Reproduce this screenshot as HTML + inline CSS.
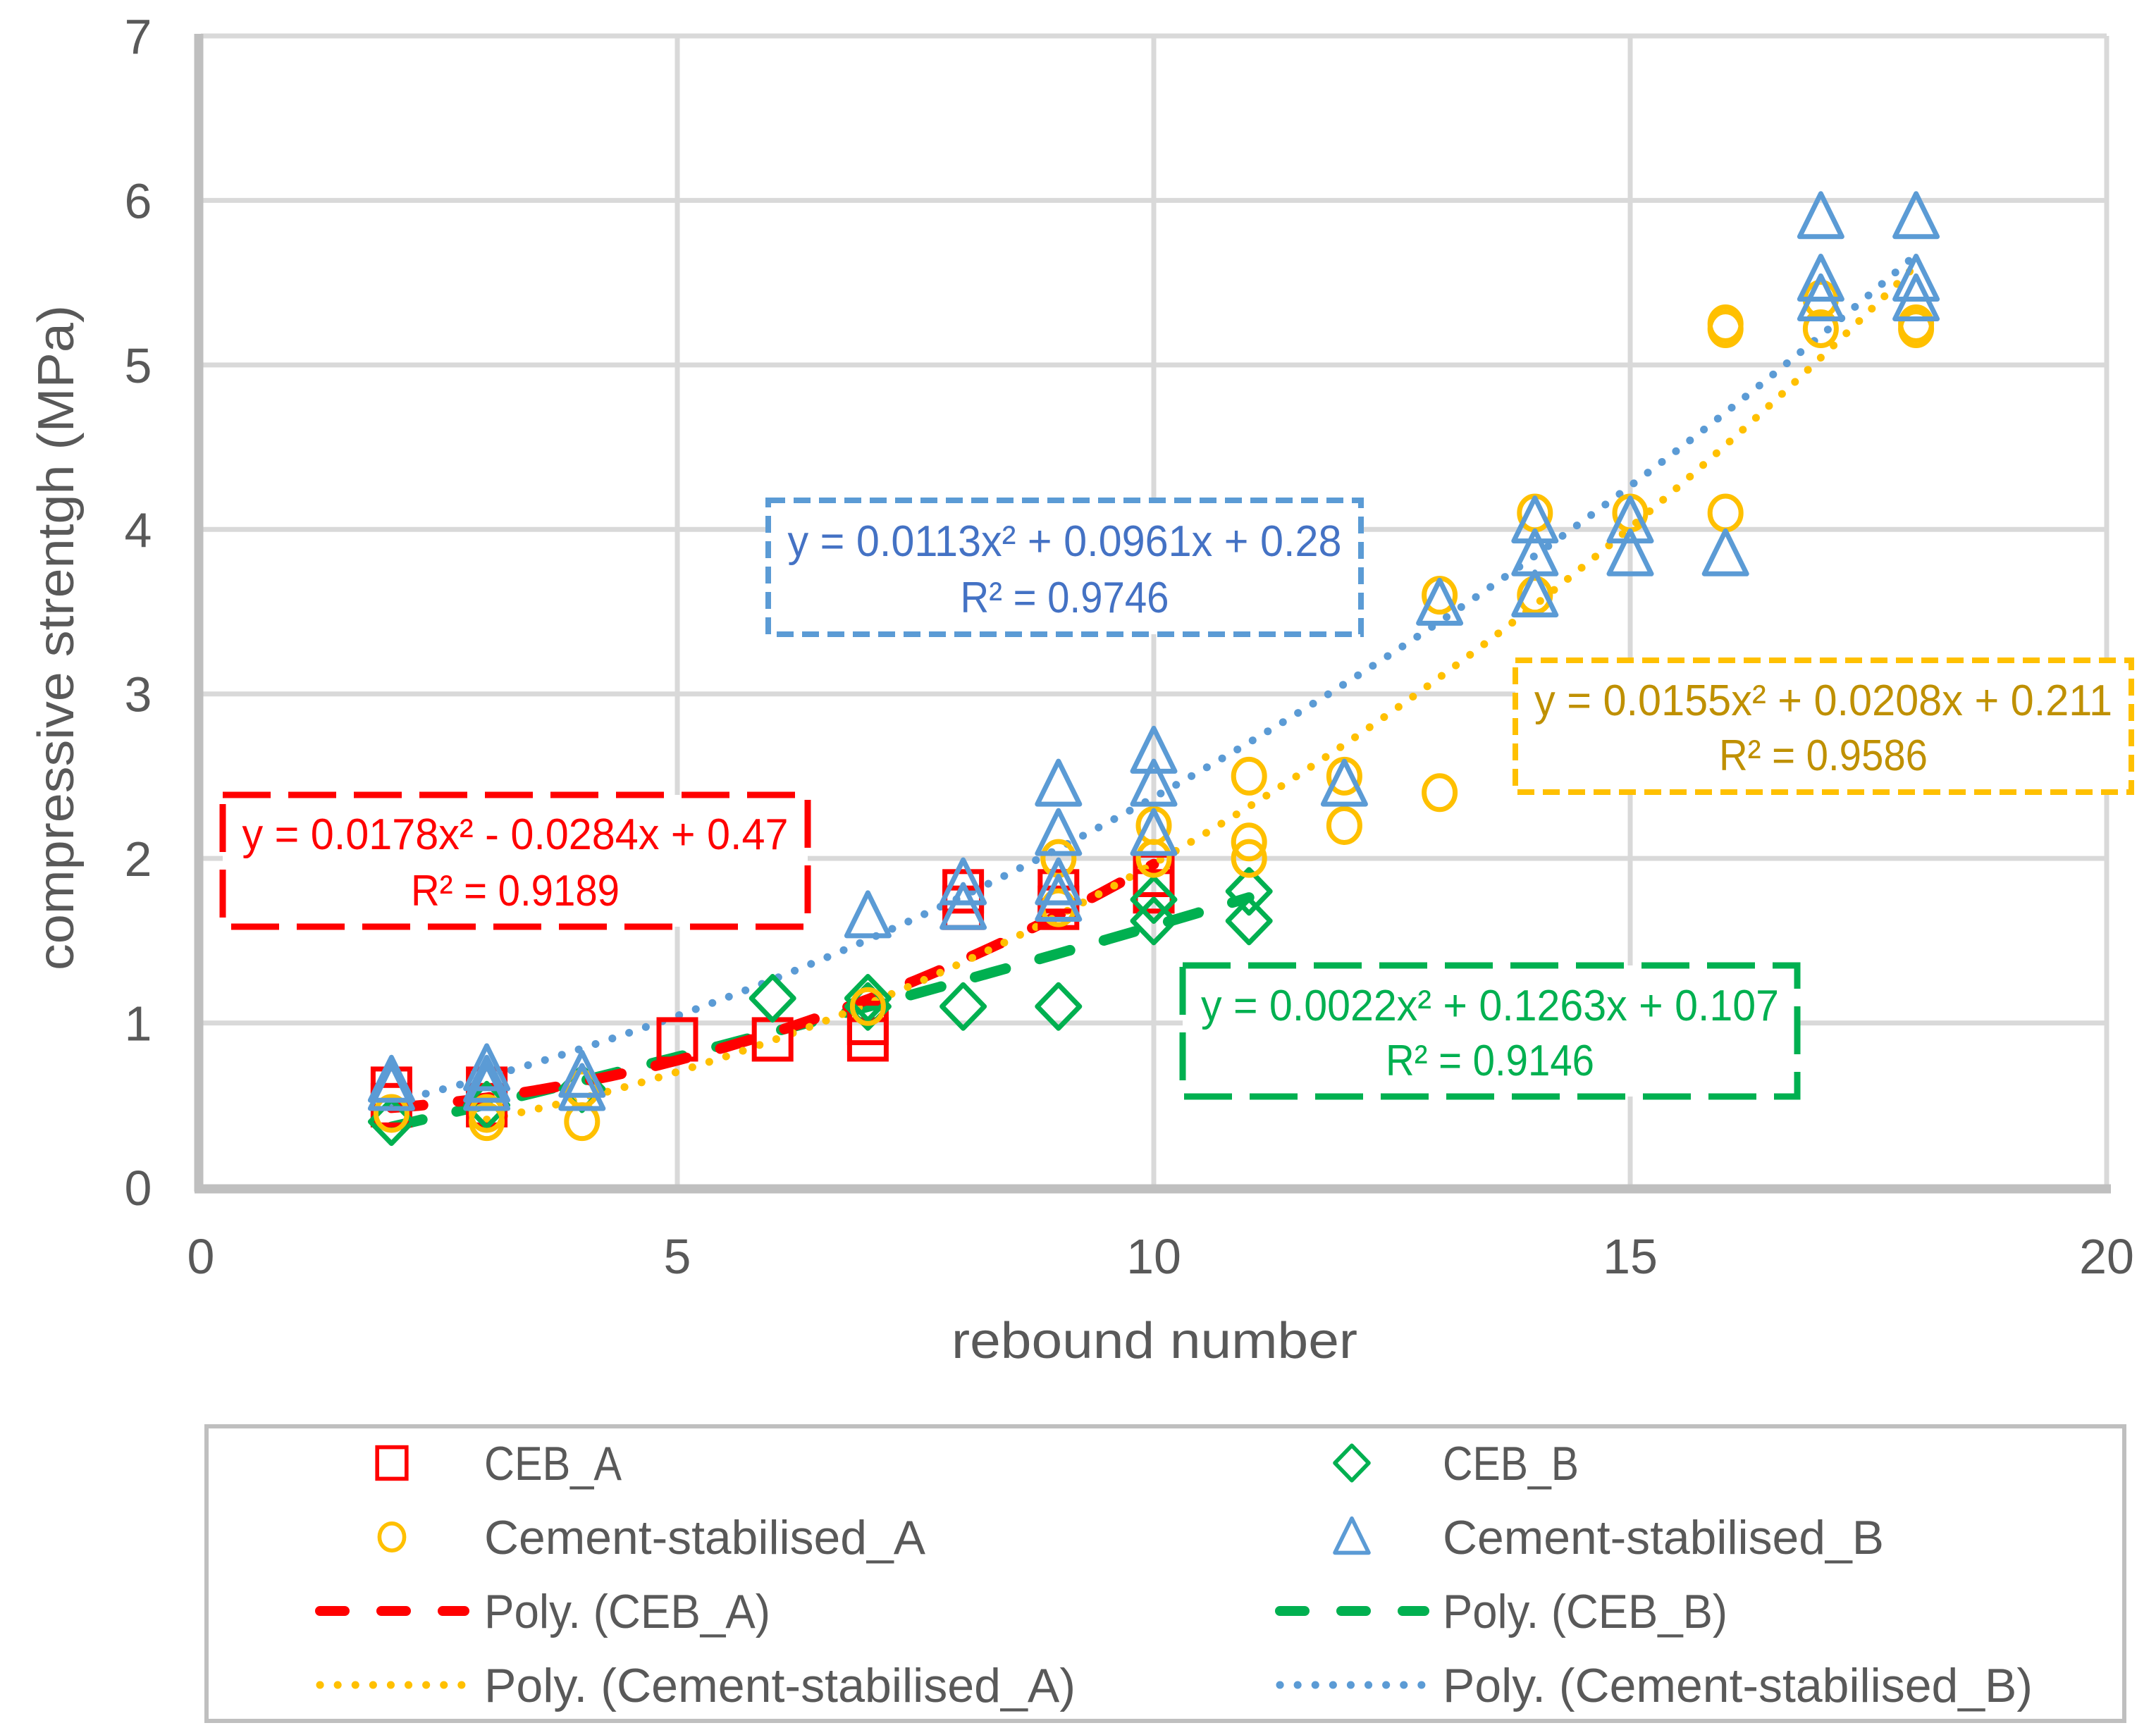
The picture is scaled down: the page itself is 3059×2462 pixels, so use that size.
<!DOCTYPE html>
<html><head><meta charset="utf-8"><style>
html,body{margin:0;padding:0;background:#fff;}
svg{display:block;font-family:"Liberation Sans",sans-serif;}
</style></head><body>
<svg id="chart" width="3059" height="2462" viewBox="0 0 3059 2462" xmlns="http://www.w3.org/2000/svg">
<rect width="3059" height="2462" fill="#fff"/>
<g id="grid"></g>
<g id="axes"></g>
<g id="trends"></g>
<g id="marks"></g>
<g id="ann"></g>
<text x="1638" y="1927" font-size="72" fill="#595959" text-anchor="middle" textLength="576" lengthAdjust="spacingAndGlyphs">rebound number</text>
<text transform="translate(104,905) rotate(-90)" font-size="72" fill="#595959" text-anchor="middle" textLength="944" lengthAdjust="spacingAndGlyphs">compressive strentgh (MPa)</text>
<g id="legend"></g>
</svg>
<script>
const xTicks = [0, 5, 10, 15, 20];
const yTicks = [0, 1, 2, 3, 4, 5, 6, 7];
const cebAx = [2, 2, 3, 3, 5, 6, 7, 7, 8, 8, 9, 9, 10, 10];
const cebAy = [0.6, 0.5, 0.6, 0.5, 0.9, 0.9, 0.9, 1.0, 1.7, 1.8, 1.7, 1.8, 1.9, 1.8];
const cebBx = [2, 3, 4, 6, 7, 7, 8, 9, 10, 10, 11, 11];
const cebBy = [0.4, 0.5, 0.6, 1.15, 1.1, 1.15, 1.1, 1.1, 1.62, 1.75, 1.8, 1.62];
const csAx = [2, 3, 3, 4, 4, 7, 9, 9, 10, 10, 11, 11, 11, 12, 12, 13, 13, 14, 14, 15, 16, 16, 16, 17, 17, 18, 18];
const csAy = [0.45, 0.4, 0.45, 0.4, 0.6, 1.1, 2.0, 1.7, 2.0, 2.2, 2.5, 2.1, 2.0, 2.2, 2.5, 2.4, 3.6, 3.6, 4.1, 4.1, 5.25, 5.22, 4.1, 5.22, 5.4, 5.22, 5.25];
const csBx = [2, 2, 3, 3, 3, 4, 4, 7, 8, 8, 9, 9, 9, 9, 10, 10, 10, 12, 13, 14, 14, 14, 15, 15, 16, 17, 17, 17, 18, 18, 18];
const csBy = [0.65, 0.6, 0.72, 0.65, 0.6, 0.68, 0.6, 1.65, 1.85, 1.7, 2.45, 2.15, 1.85, 1.75, 2.65, 2.45, 2.15, 2.45, 3.55, 4.05, 3.85, 3.6, 4.05, 3.85, 3.85, 5.9, 5.52, 5.4, 5.9, 5.52, 5.4];
const coefA = [0.0178, -0.0284, 0.47];
const coefB = [0.0022, 0.1263, 0.107];
const coefCA = [0.0155, 0.0208, 0.211];
const coefCB = [0.0113, 0.0961, 0.28];

const NS = "http://www.w3.org/2000/svg";
const X0 = 285, X1 = 2989, Y0 = 1685, Y1 = 51;
function sx(v){ return X0 + (X1 - X0) * v / 20; }
function sy(v){ return Y0 - (Y0 - Y1) * v / 7; }
function mk(tag, attrs, parent){ const e = document.createElementNS(NS, tag); for (const k in attrs) e.setAttribute(k, attrs[k]); parent.appendChild(e); return e; }

const grid = document.getElementById('grid');
yTicks.forEach(t => {
  if (t === 0) return;
  const l = mk('line', {x1: X0, x2: X1, y1: sy(t), y2: sy(t), stroke: '#d9d9d9', 'stroke-width': 7}, grid);
  
  
});
xTicks.forEach(t => {
  if (t === 0) return;
  const l = mk('line', {x1: sx(t), x2: sx(t), y1: Y0, y2: Y1, stroke: '#d9d9d9', 'stroke-width': 7}, grid);
  
  
});
const axes = document.getElementById('axes');
let a = mk('line', {x1: X0 - 3, x2: X0 - 3, y1: Y1 - 3, y2: Y0 + 6, stroke: '#bfbfbf', 'stroke-width': 13}, axes);
 
a = mk('line', {x1: X0 - 9, x2: X1 + 6, y1: Y0 + 2, y2: Y0 + 2, stroke: '#bfbfbf', 'stroke-width': 13}, axes);
 
yTicks.forEach(t => {
  const e = mk('text', {x: 196, y: sy(t) + 25, 'font-size': 70, fill: '#595959', 'text-anchor': 'middle'}, axes);
  e.textContent = t;
  
  
});
xTicks.forEach(t => {
  const e = mk('text', {x: sx(t), y: 1807, 'font-size': 70, fill: '#595959', 'text-anchor': 'middle'}, axes);
  e.textContent = t;
  
  
});

const trends = document.getElementById('trends');
function trend(c, from, to, color, dash, w, cap, name){
  let d = '';
  for (let i = 0; i <= 80; i++){
    const x = from + (to - from) * i / 80;
    const y = c[0] * x * x + c[1] * x + c[2];
    d += (i ? 'L' : 'M') + sx(x).toFixed(1) + ',' + sy(y).toFixed(1);
  }
  const p = mk('path', {d: d, fill: 'none', stroke: color, 'stroke-width': w, 'stroke-dasharray': dash, 'stroke-linecap': cap}, trends);
  
  
}
trend(coefB, 2, 11, '#00b050', '45 50', 15, 'round', 'trend-ceb-b');
trend(coefA, 2, 10, '#ff0000', '45 50', 15, 'round', 'trend-ceb-a');
trend(coefCA, 3, 18, '#ffc000', '0.1 25', 11, 'round', 'trend-cement-a');
trend(coefCB, 2, 18, '#5b9bd5', '0.1 25', 11, 'round', 'trend-cement-b');

const marks = document.getElementById('marks');
function marker(type, cx, cy, color, parent){
  let e;
  if (type === 'sq') e = mk('rect', {x: cx - 26, y: cy - 28, width: 52, height: 56, fill: 'none', stroke: color, 'stroke-width': 7}, parent);
  else if (type === 'ci') e = mk('ellipse', {cx: cx, cy: cy, rx: 22, ry: 24, fill: 'none', stroke: color, 'stroke-width': 7}, parent);
  else if (type === 'di') e = mk('path', {d: `M${cx},${cy-31}L${cx+30},${cy}L${cx},${cy+31}L${cx-30},${cy}Z`, fill: 'none', stroke: color, 'stroke-width': 7, 'stroke-linejoin': 'round'}, parent);
  else e = mk('path', {d: `M${cx},${cy-33}L${cx+30},${cy+28}L${cx-30},${cy+28}Z`, fill: 'none', stroke: color, 'stroke-width': 7, 'stroke-linejoin': 'round'}, parent);
  return e;
}
function series(xs, ys, type, color, name){
  xs.forEach((x, i) => {
    const e = marker(type, sx(x), sy(ys[i]), color, marks);
    
    
  });
}
series(cebAx, cebAy, 'sq', '#ff0000', 'ceb-a-point');
series(cebBx, cebBy, 'di', '#00b050', 'ceb-b-point');
series(csAx, csAy, 'ci', '#ffc000', 'cement-a-point');
series(csBx, csBy, 'tr', '#5b9bd5', 'cement-b-point');

const ann = document.getElementById('ann');
function box(x, y, w, h, stroke, dash, sw, tcol, l1, l1w, b1, l2, b2, name){
  const g = mk('g', {}, ann);
  
  
  mk('rect', {x: x, y: y, width: w, height: h, fill: '#fff', stroke: stroke, 'stroke-width': sw, 'stroke-dasharray': dash}, g);
  const cx = x + w / 2;
  const t1 = mk('text', {x: cx, y: b1, 'font-size': 62, fill: tcol, 'text-anchor': 'middle', textLength: l1w, lengthAdjust: 'spacingAndGlyphs'}, g);
  t1.textContent = l1;
  const t2 = mk('text', {x: cx, y: b2, 'font-size': 62, fill: tcol, 'text-anchor': 'middle', textLength: 296, lengthAdjust: 'spacingAndGlyphs'}, g);
  t2.textContent = l2;
}
box(1090, 710, 841, 190, '#5b9bd5', '24 12', 8, '#4472c4', 'y = 0.0113x² + 0.0961x + 0.28', 786, 789, 'R² = 0.9746', 869, 'equation-cement-b');
box(2150, 937, 874, 187, '#ffc000', '24 12', 8, '#bf9000', 'y = 0.0155x² + 0.0208x + 0.211', 820, 1015, 'R² = 0.9586', 1093, 'equation-cement-a');
box(316, 1128, 830, 187, '#ff0000', '68 25', 9, '#ff0000', 'y = 0.0178x² - 0.0284x + 0.47', 775, 1205, 'R² = 0.9189', 1285, 'equation-ceb-a');
box(1678, 1370, 872, 186, '#00b050', '68 25', 9, '#00b050', 'y = 0.0022x² + 0.1263x + 0.107', 820, 1448, 'R² = 0.9146', 1526, 'equation-ceb-b');

const legend = document.getElementById('legend');
mk('rect', {x: 293, y: 2024, width: 2721, height: 418, fill: '#fff', stroke: '#bfbfbf', 'stroke-width': 6}, legend);
const rows = [2076, 2181, 2286, 2391];
function legEntry(col, row, kind, color, label, lw, name){
  const g = mk('g', {}, legend);
  
  
  const mx = col === 0 ? 556 : 1918, tx = col === 0 ? 687 : 2047;
  const cy = rows[row];
  if (kind === 'dash') mk('line', {x1: mx - 102, x2: mx + 103, y1: cy, y2: cy, stroke: color, 'stroke-width': 14, 'stroke-dasharray': '35 52', 'stroke-linecap': 'round'}, g);
  else if (kind === 'dot') mk('line', {x1: mx - 102, x2: mx + 103, y1: cy, y2: cy, stroke: color, 'stroke-width': 11, 'stroke-dasharray': '0.1 25', 'stroke-linecap': 'round'}, g);
  else { const m = marker(kind, mx, cy, color, g); m.setAttribute('transform', `translate(${mx},${cy}) scale(0.8) translate(${-mx},${-cy})`); }
  const t = mk('text', {x: tx, y: cy + 24, 'font-size': 68, fill: '#595959', textLength: lw, lengthAdjust: 'spacingAndGlyphs'}, g);
  t.textContent = label;
}
legEntry(0, 0, 'sq', '#ff0000', 'CEB_A', 195, 'legend-ceb-a');
legEntry(1, 0, 'di', '#00b050', 'CEB_B', 193, 'legend-ceb-b');
legEntry(0, 1, 'ci', '#ffc000', 'Cement-stabilised_A', 626, 'legend-cement-a');
legEntry(1, 1, 'tr', '#5b9bd5', 'Cement-stabilised_B', 626, 'legend-cement-b');
legEntry(0, 2, 'dash', '#ff0000', 'Poly. (CEB_A)', 406, 'legend-poly-ceb-a');
legEntry(1, 2, 'dash', '#00b050', 'Poly. (CEB_B)', 404, 'legend-poly-ceb-b');
legEntry(0, 3, 'dot', '#ffc000', 'Poly. (Cement-stabilised_A)', 839, 'legend-poly-cement-a');
legEntry(1, 3, 'dot', '#5b9bd5', 'Poly. (Cement-stabilised_B)', 837, 'legend-poly-cement-b');
</script>
</body></html>
